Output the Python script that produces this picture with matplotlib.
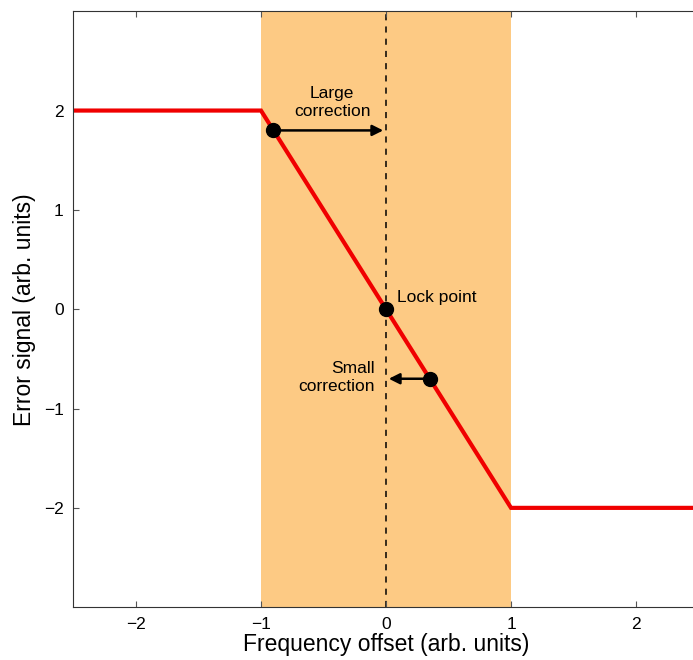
import matplotlib.pyplot as plt

plt.rcParams['font.family'] = ['Liberation Sans', 'DejaVu Sans']

# error signal curve (piecewise linear)
curve_x = [-2.5, -1, 1, 2.5]
curve_y = [2, 2, -2, -2]

# marked points on the curve
pts_x = [-0.9, 0, 0.35]
pts_y = [1.8, 0, -0.7]

band = (-1, 1)

fig = plt.figure(figsize=(6.93, 6.60), dpi=100)
ax = fig.add_axes([0.106, 0.080, 0.902, 0.903])

ax.axvspan(band[0], band[1], color='#FDCA84', lw=0, zorder=0)
ax.axvline(0, color='black', ls=(0, (4, 4)), lw=1.1, zorder=1)
ax.plot(curve_x, curve_y, color='#F00000', lw=3, zorder=2, solid_joinstyle='miter')
ax.plot(pts_x, pts_y, 'o', color='black', ms=10, zorder=4)

# correction arrows towards the lock point
ax.annotate('', xy=(0, pts_y[0]), xytext=(pts_x[0], pts_y[0]),
            arrowprops=dict(arrowstyle='-|>', color='black', lw=1.8, mutation_scale=16), zorder=3)
ax.annotate('', xy=(0, pts_y[2]), xytext=(pts_x[2], pts_y[2]),
            arrowprops=dict(arrowstyle='-|>', color='black', lw=1.8, mutation_scale=16), zorder=3)

ax.text(-0.43, 2.08, 'Large\ncorrection', ha='center', va='center', fontsize=12.5, linespacing=1.25)
ax.text(0.09, 0.12, 'Lock point', ha='left', va='center', fontsize=12.5)
ax.text(-0.09, -0.69, 'Small\ncorrection', ha='right', va='center', fontsize=12.5, linespacing=1.25)

ax.set_xlim(-2.5, 2.5)
ax.set_ylim(-3, 3)
ax.set_xticks([-2, -1, 0, 1, 2])
ax.set_yticks([-2, -1, 0, 1, 2])
ax.tick_params(direction='in', top=True, right=True, labelsize=12.5, length=4, color='#555555', pad=7)
ax.set_xlabel('Frequency offset (arb. units)', fontsize=16.5, labelpad=1)
ax.set_ylabel('Error signal (arb. units)', fontsize=16.5, labelpad=6)
for s in ax.spines.values():
    s.set_color('#333333')

fig.savefig('out.png', dpi=100)
